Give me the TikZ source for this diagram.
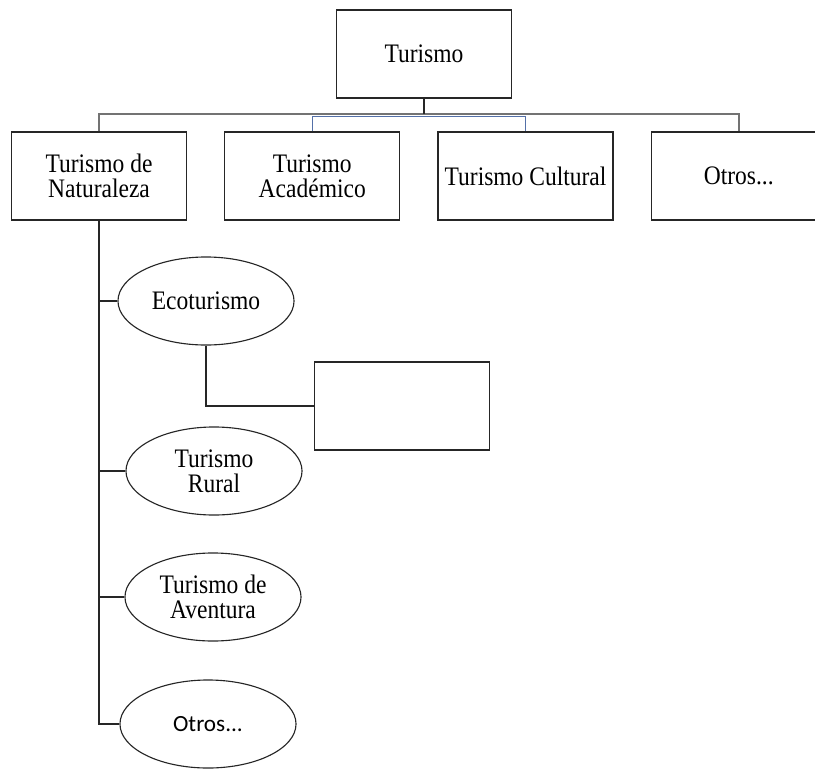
\documentclass[tikz,border=0pt]{standalone}
\usepackage{fontspec}
\setmainfont{Liberation Serif}[FakeStretch=0.88]
\newfontfamily\otrosfont{Carlito}
\usetikzlibrary{positioning, shapes.geometric}

\definecolor{azulrama}{RGB}{84,112,168}
\tikzset{
	caja/.style={draw=black!85, line width=0.8pt, rectangle, minimum height=2.2cm, minimum width=4.375cm, inner sep=1pt, align=center, font=\fontsize{19}{17.5}\selectfont},
	ovalo/.style={draw=black!85, line width=0.8pt, ellipse, minimum height=2.2cm, minimum width=4.4cm, inner sep=0pt, align=center, font=\fontsize{19}{17.5}\selectfont},
	enlace/.style={draw=black!85, line width=0.8pt},
	rama/.style={draw=black!55, line width=1.1pt},
	ramaazul/.style={draw=azulrama, line width=1pt}
}

\begin{document}
\begin{tikzpicture}[x=0.025cm, y=-0.025cm, node distance=5.33cm]
	\useasboundingbox (0,0) rectangle (815,769);
	%diagram
	\node[caja] (turismo) at (424,54) {Turismo};
	\node[caja] (naturaleza) at (99,176) {Turismo de\\Naturaleza};
	\node[caja, right of=naturaleza] (academico) {Turismo\\Académico};
	\node[caja, right of=academico] (cultural) {Turismo Cultural};
	\node[caja, right of=cultural] (otros) {Otros...};

	\node[ovalo] (eco) at (206,301) {Ecoturismo};
	\node[caja] (vacio) at (402,406) {};
	\node[ovalo] (rural) at (214,471) {Turismo\\Rural};
	\node[ovalo] (aventura) at (213,597) {Turismo de\\Aventura};
	\node[ovalo, font=\otrosfont\fontsize{16.5}{17.5}\selectfont] (otrosnat) at (208,724) {Otros...};

	%conexiones
	\coordinate (barra) at (424,114);
	\coordinate (barraazul) at (424,116.5);
	\draw[rama] (naturaleza.north) |- (barra) -| (otros.north);
	\draw[ramaazul] (academico.north) |- (barraazul) -| (cultural.north);
	\draw[enlace] (turismo.south) -- (barra);
	\draw[enlace] (naturaleza.south) |- (otrosnat.west);
	\draw[enlace] (naturaleza.south) |- (eco.west);
	\draw[enlace] (naturaleza.south) |- (rural.west);
	\draw[enlace] (naturaleza.south) |- (aventura.west);
	\draw[enlace] (eco.south) |- (vacio.west);
\end{tikzpicture}
\end{document}
